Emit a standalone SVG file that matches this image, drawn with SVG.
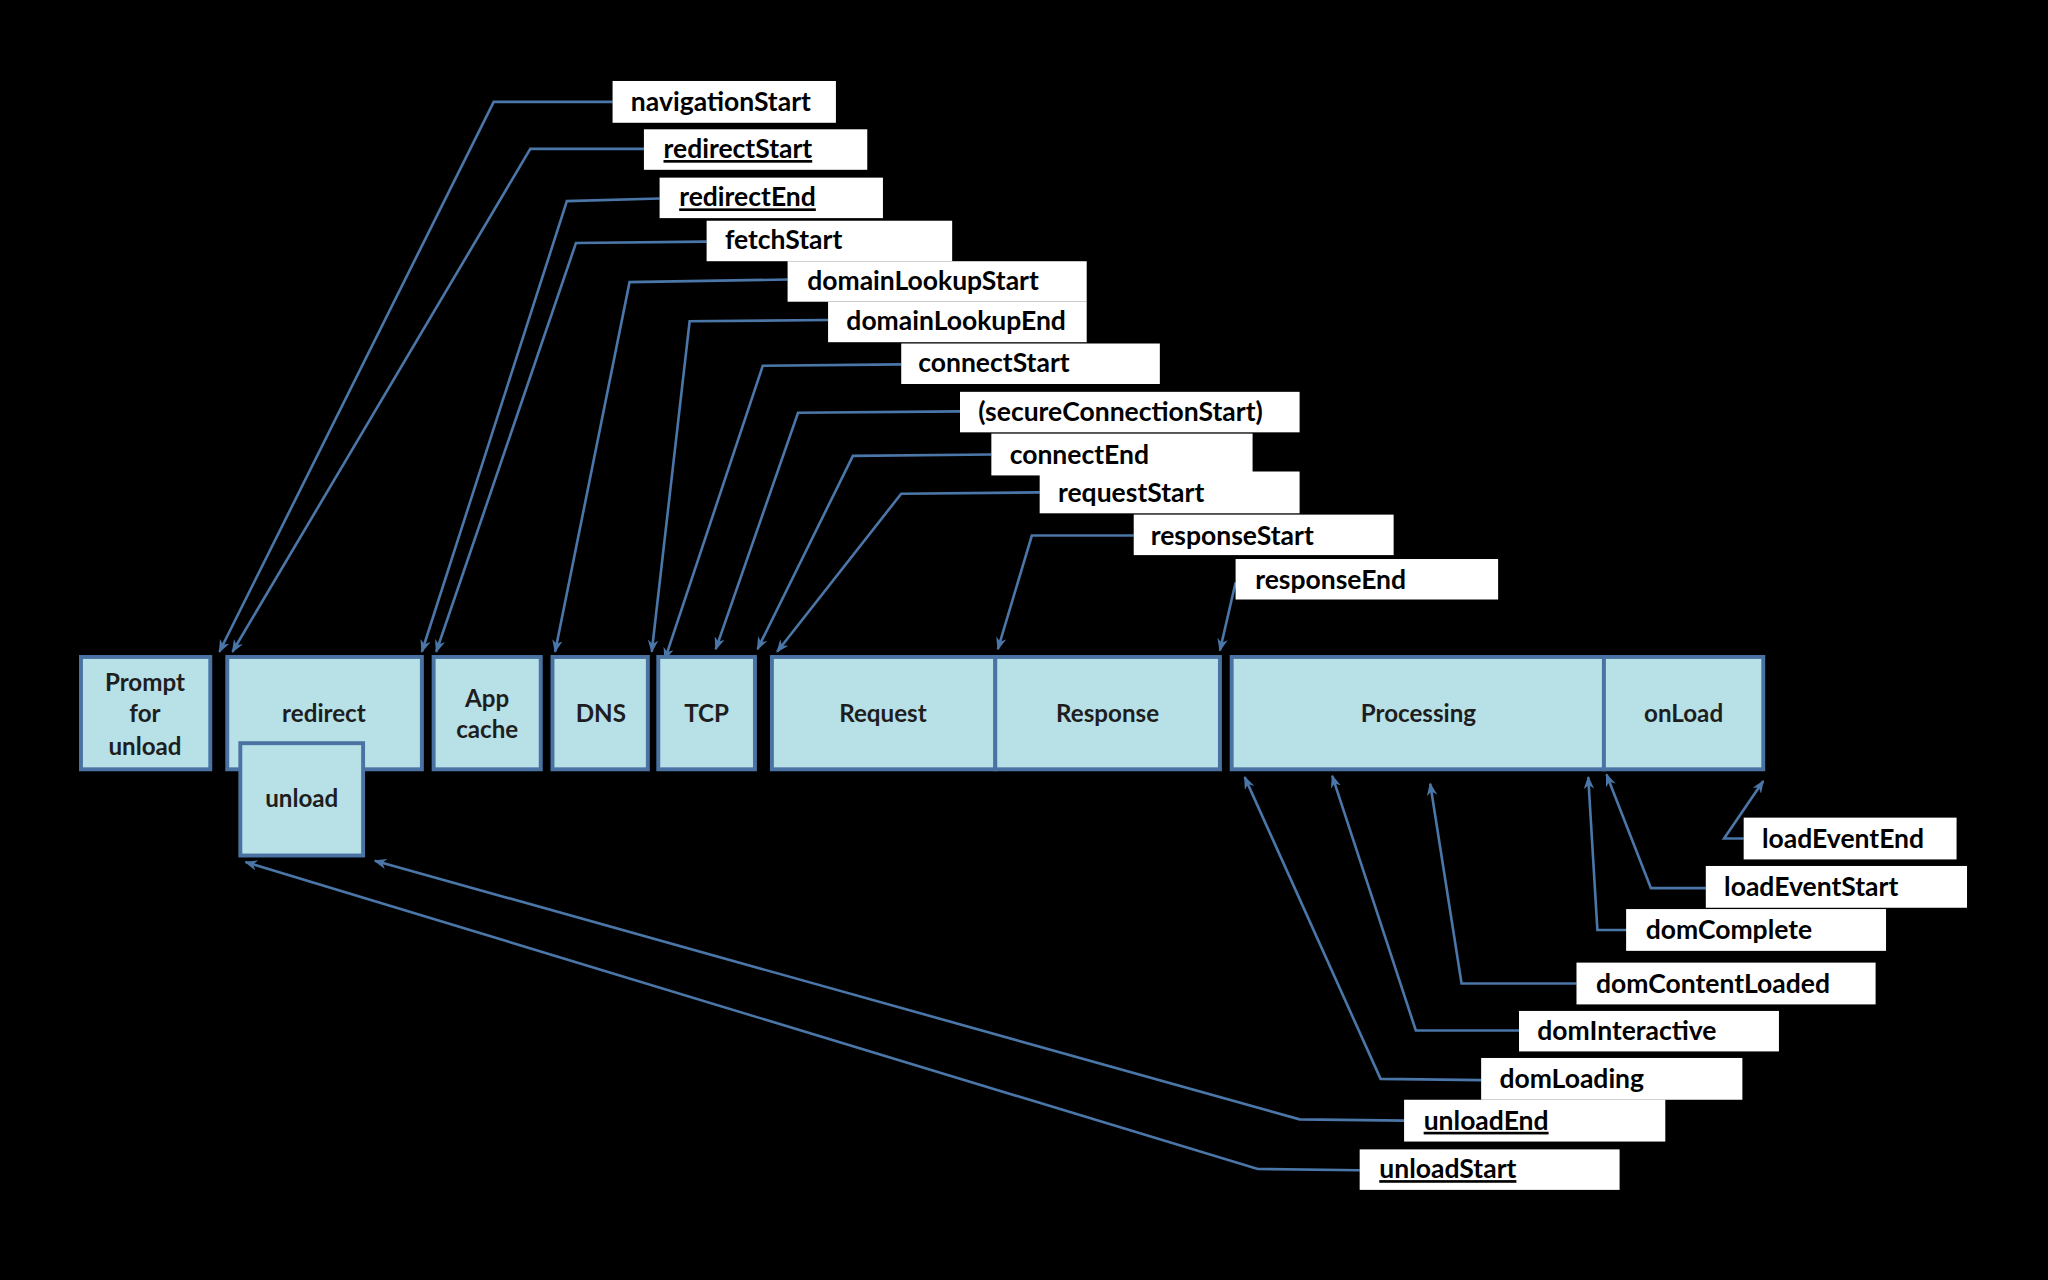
<svg xmlns="http://www.w3.org/2000/svg" width="2048" height="1280" viewBox="0 0 2048 1280">
<defs>
<style>
.box{fill:#b7e0e7;stroke:#4a73a3;stroke-width:3}
.bt{font-family:Lato,"Liberation Sans",sans-serif;font-weight:700;font-size:18.5px;fill:#1e1e1e;text-anchor:middle}
.lb{fill:#ffffff;stroke:none}
.lt{font-family:Lato,"Liberation Sans",sans-serif;font-weight:700;font-size:20.3px;fill:#000000}
.u{text-decoration:underline}
.c{fill:none;stroke:#4a76a8;stroke-width:2;stroke-linejoin:miter;marker-end:url(#ah)}
</style>
<marker id="ah" markerWidth="10" markerHeight="8" refX="9" refY="4" orient="auto" markerUnits="userSpaceOnUse" viewBox="0 0 10 8">
<path d="M0,0 L10,4 L0,8 L3,4 z" fill="#4a76a8"/>
</marker>
</defs>
<rect x="0" y="0" width="2048" height="1280" fill="#000000"/>
<g transform="scale(1.306122)">
<g id="connectors">
<path class="c" d="M469,78 L378,78 L168,499"/>
<path class="c" d="M493,114 L406,114 L178,499"/>
<path class="c" d="M505,152 L434,154 L323,499"/>
<path class="c" d="M541,185 L441,186 L334,499"/>
<path class="c" d="M603,214 L482,216 L425,499"/>
<path class="c" d="M634,245 L528,246 L499,499"/>
<path class="c" d="M690,279 L584,280 L509,505"/>
<path class="c" d="M735,315 L611,316 L548,497"/>
<path class="c" d="M759,348 L653,349 L580,497"/>
<path class="c" d="M796,377 L690,378 L595,499"/>
<path class="c" d="M868,410 L790,410 L764,497"/>
<path class="c" d="M946,446 L934,498"/>
<path class="c" d="M1335,642 L1320,642 L1350,598"/>
<path class="c" d="M1306,680 L1264,680 L1230,593"/>
<path class="c" d="M1246,712 L1223,712 L1216,595"/>
<path class="c" d="M1207,753 L1119,753 L1095,600"/>
<path class="c" d="M1163,789 L1084,789 L1020,594"/>
<path class="c" d="M1134,827 L1057,826 L953,595"/>
<path class="c" d="M1075,858 L995,857 L287,659"/>
<path class="c" d="M1041,896 L963,895 L188,660"/>
</g>
<g id="prompt"><rect class="box" x="62" y="503" width="99" height="86"/>
<text class="bt" x="111" y="529">Prompt</text><text class="bt" x="111" y="553">for</text><text class="bt" x="111" y="578">unload</text></g>
<g id="redirect"><rect class="box" x="174" y="503" width="149" height="86"/><text class="bt" x="248" y="553">redirect</text></g>
<g id="unload"><rect class="box" x="184" y="569" width="94" height="86"/><text class="bt" x="231" y="618">unload</text></g>
<g id="appcache"><rect class="box" x="332" y="503" width="82" height="86"/><text class="bt" x="373" y="541">App</text><text class="bt" x="373" y="565">cache</text></g>
<g id="dns"><rect class="box" x="423" y="503" width="73" height="86"/><text class="bt" x="460" y="553">DNS</text></g>
<g id="tcp"><rect class="box" x="504" y="503" width="74" height="86"/><text class="bt" x="541" y="553">TCP</text></g>
<g id="request"><rect class="box" x="591" y="503" width="171" height="86"/><text class="bt" x="676" y="553">Request</text></g>
<g id="response"><rect class="box" x="762" y="503" width="172" height="86"/><text class="bt" x="848" y="553">Response</text></g>
<g id="processing"><rect class="box" x="943" y="503" width="285" height="86"/><text class="bt" x="1086" y="553">Processing</text></g>
<g id="onload"><rect class="box" x="1228" y="503" width="122" height="86"/><text class="bt" x="1289" y="553">onLoad</text></g>

<g id="l-navigationStart"><rect class="lb" x="469" y="62" width="171" height="32"/><text class="lt" x="483" y="85">navigationStart</text></g>
<g id="l-redirectStart"><rect class="lb" x="493" y="99" width="171" height="31"/><text class="lt u" x="508" y="121">redirectStart</text></g>
<g id="l-redirectEnd"><rect class="lb" x="505" y="136" width="171" height="31"/><text class="lt u" x="520" y="158">redirectEnd</text></g>
<g id="l-fetchStart"><rect class="lb" x="541" y="169" width="188" height="31"/><text class="lt" x="555" y="191">fetchStart</text></g>
<g id="l-domainLookupStart"><rect class="lb" x="603" y="200" width="229" height="31"/><text class="lt" x="618" y="222">domainLookupStart</text></g>
<g id="l-domainLookupEnd"><rect class="lb" x="634" y="231" width="198" height="31"/><text class="lt" x="648" y="253">domainLookupEnd</text></g>
<g id="l-connectStart"><rect class="lb" x="690" y="263" width="198" height="31"/><text class="lt" x="703" y="285">connectStart</text></g>
<g id="l-secureConnectionStart"><rect class="lb" x="735" y="300" width="260" height="31"/><text class="lt" x="749" y="322">(secureConnectionStart)</text></g>
<g id="l-connectEnd"><rect class="lb" x="759" y="332" width="200" height="32"/><text class="lt" x="773" y="355">connectEnd</text></g>
<g id="l-requestStart"><rect class="lb" x="796" y="361" width="199" height="32"/><text class="lt" x="810" y="384">requestStart</text></g>
<g id="l-responseStart"><rect class="lb" x="868" y="394" width="199" height="31"/><text class="lt" x="881" y="417">responseStart</text></g>
<g id="l-responseEnd"><rect class="lb" x="946" y="428" width="201" height="31"/><text class="lt" x="961" y="451">responseEnd</text></g>

<g id="l-loadEventEnd"><rect class="lb" x="1335" y="626" width="163" height="32"/><text class="lt" x="1349" y="649">loadEventEnd</text></g>
<g id="l-loadEventStart"><rect class="lb" x="1306" y="663" width="200" height="32"/><text class="lt" x="1320" y="686">loadEventStart</text></g>
<g id="l-domComplete"><rect class="lb" x="1245" y="696" width="199" height="32"/><text class="lt" x="1260" y="719">domComplete</text></g>
<g id="l-domContentLoaded"><rect class="lb" x="1207" y="737" width="229" height="32"/><text class="lt" x="1222" y="760">domContentLoaded</text></g>
<g id="l-domInteractive"><rect class="lb" x="1163" y="774" width="199" height="31"/><text class="lt" x="1177" y="796">domInteractive</text></g>
<g id="l-domLoading"><rect class="lb" x="1134" y="810" width="200" height="32"/><text class="lt" x="1148" y="833">domLoading</text></g>
<g id="l-unloadEnd"><rect class="lb" x="1075" y="842" width="200" height="32"/><text class="lt u" x="1090" y="865">unloadEnd</text></g>
<g id="l-unloadStart"><rect class="lb" x="1041" y="880" width="199" height="31"/><text class="lt u" x="1056" y="902">unloadStart</text></g>
</g>
</svg>
